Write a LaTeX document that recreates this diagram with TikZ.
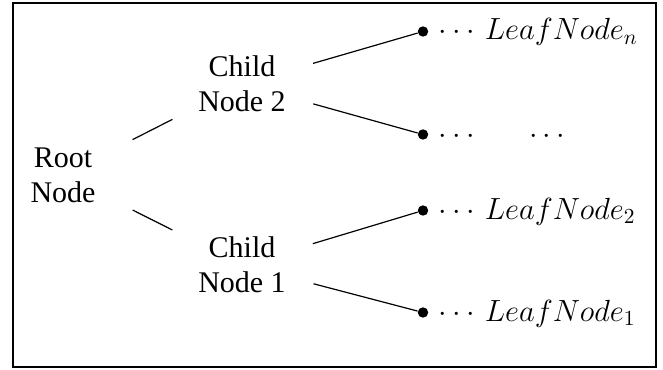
\RequirePackage{fix-cm}
\documentclass[tikz,border=0pt]{standalone}
\usepackage{fontspec}
\setmainfont{Liberation Serif}
\begin{document}
\begin{tikzpicture}[x=0.5pt,y=-0.5pt,
  lbl/.style={align=center,inner sep=0pt,font=\fontsize{15}{17.5}\selectfont},
  leafdot/.style={circle,fill=black,inner sep=0pt,minimum size=5.2pt},
  leaflbl/.style={anchor=base west,inner sep=0pt,font=\fontsize{15.3}{18}\selectfont},
  conn/.style={line width=0.6pt}]
\useasboundingbox (0,0) rectangle (663,369);
\draw[line width=1.1pt] (13,3) rectangle (656,367);
\node[lbl] (root) at (63,175) {Root\\Node};
\node[lbl] (c2) at (242,84) {Child\\Node 2};
\node[lbl] (c1) at (242,265) {Child\\Node 1};
\node[leafdot] (dn) at (423,31.5) {};
\node[leafdot] (dm) at (423,134.5) {};
\node[leafdot] (d2) at (423,210.5) {};
\node[leafdot] (d1) at (423,312.5) {};
\node[leaflbl] (ln) at (438.5,40) {$\cdots\, LeafNode_n$};
\node[leaflbl] (lm) at (438.5,143) {$\cdots\hspace{24.7pt}\cdots$};
\node[leaflbl] (l2) at (438.5,219) {$\cdots\, LeafNode_2$};
\node[leaflbl] (l1) at (438.5,321) {$\cdots\, LeafNode_1$};
\draw[conn,shorten <=39pt,shorten >=39pt] (root.center) -- (c2.center);
\draw[conn,shorten <=39pt,shorten >=39pt] (root.center) -- (c1.center);
\draw[conn,shorten <=37pt] (c2.center) -- (dn);
\draw[conn,shorten <=37pt] (c2.center) -- (dm);
\draw[conn,shorten <=37pt] (c1.center) -- (d2);
\draw[conn,shorten <=37pt] (c1.center) -- (d1);
\end{tikzpicture}
\end{document}
